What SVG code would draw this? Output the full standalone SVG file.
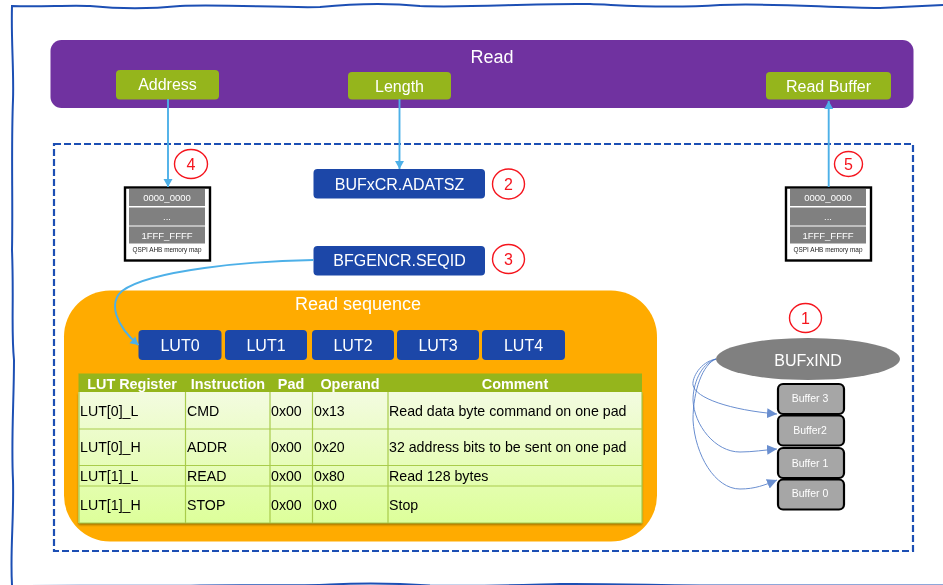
<svg xmlns="http://www.w3.org/2000/svg" width="943" height="585" viewBox="0 0 943 585">
<style>
text{font-family:"Liberation Sans",Arial,sans-serif}
.w{fill:#fff;text-anchor:middle}
.g{fill:#95b51a}
.b{fill:#1a47a8}
.t16{font-size:16px}
.c{fill:#fff;stroke:#f5141e;stroke-width:1.4}
.n{fill:#f5141e;font-size:16px;text-anchor:middle}
.gr{fill:#808080}
.mt{fill:#fff;font-size:9.5px;text-anchor:middle}
.cap{fill:#222;font-size:6.4px;text-anchor:middle}
.mb{fill:#fff;stroke:#000;stroke-width:2.4}
.buf{fill:#a6a6a6;stroke:#000;stroke-width:2.2}
.bt{fill:#fff;font-size:10.500px;text-anchor:middle}
.h{fill:#fff;font-size:14.400px;font-weight:bold;text-anchor:middle}
.r{fill:#000;font-size:14.200px}
.gl{stroke:#a9cc4c;stroke-width:1.2;fill:none}
.arr{fill:none;stroke:#4db0e8;stroke-width:1.9}
.thin{fill:none;stroke:#4472c4;stroke-width:1;opacity:.8}
</style>
<defs>
<marker id="ah" markerWidth="12" markerHeight="12" refX="9" refY="6" orient="auto" markerUnits="userSpaceOnUse"><path d="M1,1.500L9,6L1,10.500Z" fill="#4db0e8"/></marker>
<marker id="ah2" markerWidth="12" markerHeight="12" refX="10" refY="6" orient="auto" markerUnits="userSpaceOnUse"><path d="M0,1L10,6L0,11Z" fill="#4472c4"/></marker>
<linearGradient id="rows" x1="0" y1="0" x2="0" y2="1"><stop offset="0" stop-color="#f3fbe0"/><stop offset="1" stop-color="#ddff9a"/></linearGradient>
<filter id="sh" x="-2%" y="-2%" width="104%" height="106%"><feDropShadow dx="0" dy="2" stdDeviation="1" flood-color="#5a5000" flood-opacity=".6"/></filter>
<filter id="soft" filterUnits="userSpaceOnUse" x="0" y="0" width="943" height="585"><feGaussianBlur stdDeviation="0.4"/></filter>
</defs>
<g filter="url(#soft)">
<rect width="943" height="585" fill="#fff"/>
<g id="frame" fill="none" stroke="#1e50b4" stroke-width="2">
<path d="M12,585 C10,550 14,520 13,480 C11,440 14,400 14,360 C11,330 14,300 12,250 C13,200 11,150 13,100 C14,70 11,40 12,6 C40,7 70,5 90,6 C120,9 150,9 180,6 C220,4 280,8 320,7 C350,4 390,3 420,6 C470,8 530,3 590,4 C620,5 660,9 720,5 C780,3 830,8 880,8 C900,7 920,6 943,5"/>
<path d="M12,586C100,585 150,586.500 200,585.500C250,585 300,586 330,584.500C360,583 400,583.500 430,585.500C480,586.500 520,585 560,584C620,583.500 680,586 760,585.500C820,585 880,586 943,585.500"/>
</g>

<g id="read">
<rect x="50.500" y="40" width="863" height="68" rx="11" fill="#7030a0"/>
<text class="w" x="492" y="63" font-size="18">Read</text>
</g>
<g id="address"><rect class="g" x="116" y="70" width="103" height="29.500" rx="4"/><text class="w t16" x="167.500" y="90">Address</text></g>
<g id="length"><rect class="g" x="348" y="72" width="103" height="27.500" rx="4"/><text class="w t16" x="399.500" y="91.500">Length</text></g>
<g id="read-buffer"><rect class="g" x="766" y="72" width="125" height="27.500" rx="4"/><text class="w t16" x="828.500" y="91.500">Read Buffer</text></g>

<g id="dashed-region"><rect x="54" y="144" width="859" height="407" fill="none" stroke="#1e50b4" stroke-width="2.200" stroke-dasharray="7 3"/></g>

<g id="memory-left">
<rect class="mb" x="125" y="187.500" width="85" height="73"/>
<rect class="gr" x="129" y="189" width="76" height="17"/><rect class="gr" x="129" y="207.500" width="76" height="18"/><rect class="gr" x="129" y="226.500" width="76" height="17"/>
<text class="mt" x="167" y="201">0000_0000</text><text class="mt" x="167" y="220">...</text><text class="mt" x="167" y="238.500">1FFF_FFFF</text>
<text class="cap" x="167" y="251.500">QSPI AHB memory map</text>
</g>
<g id="memory-right">
<rect class="mb" x="786" y="187.500" width="85" height="73"/>
<rect class="gr" x="790" y="189" width="76" height="17"/><rect class="gr" x="790" y="207.500" width="76" height="18"/><rect class="gr" x="790" y="226.500" width="76" height="17"/>
<text class="mt" x="828" y="201">0000_0000</text><text class="mt" x="828" y="220">...</text><text class="mt" x="828" y="238.500">1FFF_FFFF</text>
<text class="cap" x="828" y="251.500">QSPI AHB memory map</text>
</g>

<g id="bufxcr"><rect class="b" x="313.500" y="169" width="171.500" height="29.500" rx="4"/><text class="w t16" x="399.500" y="189.500">BUFxCR.ADATSZ</text></g>
<g id="bfgencr"><rect class="b" x="313.500" y="246" width="171.500" height="29.500" rx="4"/><text class="w t16" x="399.500" y="266">BFGENCR.SEQID</text></g>

<g id="badge-4"><ellipse class="c" cx="191" cy="164" rx="16.500" ry="14.500"/><text class="n" x="191" y="170">4</text></g>
<g id="badge-2"><ellipse class="c" cx="508.500" cy="184" rx="16" ry="15"/><text class="n" x="508.500" y="190">2</text></g>
<g id="badge-3"><ellipse class="c" cx="508.500" cy="259" rx="16" ry="14.500"/><text class="n" x="508.500" y="265">3</text></g>
<g id="badge-5"><ellipse class="c" cx="848.500" cy="164" rx="14" ry="12.500"/><text class="n" x="848.500" y="170">5</text></g>
<g id="badge-1"><ellipse class="c" cx="805.500" cy="318" rx="16" ry="14.500"/><text class="n" x="805.500" y="324">1</text></g>

<g id="read-sequence">
<rect x="64" y="290.500" width="593" height="251" rx="46" fill="#ffab00"/>
<text class="w" x="358" y="310" font-size="18">Read sequence</text>
</g>
<g id="lut0"><rect class="b" x="138.500" y="330" width="83" height="30" rx="4"/><text class="w t16" x="180" y="351">LUT0</text></g>
<g id="lut1"><rect class="b" x="225" y="330" width="82" height="30" rx="4"/><text class="w t16" x="266" y="351">LUT1</text></g>
<g id="lut2"><rect class="b" x="312" y="330" width="82" height="30" rx="4"/><text class="w t16" x="353" y="351">LUT2</text></g>
<g id="lut3"><rect class="b" x="397" y="330" width="82" height="30" rx="4"/><text class="w t16" x="438" y="351">LUT3</text></g>
<g id="lut4"><rect class="b" x="482" y="330" width="83" height="30" rx="4"/><text class="w t16" x="523.500" y="351">LUT4</text></g>

<g id="lut-table">
<rect x="78.500" y="392" width="563.500" height="131" fill="url(#rows)" filter="url(#sh)"/>
<rect x="78.500" y="373.500" width="563.500" height="18.500" fill="#95b51a"/>
<path class="gl" d="M79,429H642M79,465.500H642M79,486H642M79,523H642M79,392V523M642,392V523M185.500,392V523M270,392V523M312.500,392V523M388,392V523"/>
<text class="h" x="132" y="389">LUT Register</text><text class="h" x="228" y="389">Instruction</text><text class="h" x="291" y="389">Pad</text><text class="h" x="350" y="389">Operand</text><text class="h" x="515" y="389">Comment</text>
<text class="r" x="80" y="416">LUT[0]_L</text><text class="r" x="187" y="416">CMD</text><text class="r" x="271" y="416">0x00</text><text class="r" x="314" y="416">0x13</text><text class="r" x="389" y="416">Read data byte command on one pad</text>
<text class="r" x="80" y="452">LUT[0]_H</text><text class="r" x="187" y="452">ADDR</text><text class="r" x="271" y="452">0x00</text><text class="r" x="314" y="452">0x20</text><text class="r" x="389" y="452">32 address bits to be sent on one pad</text>
<text class="r" x="80" y="481">LUT[1]_L</text><text class="r" x="187" y="481">READ</text><text class="r" x="271" y="481">0x00</text><text class="r" x="314" y="481">0x80</text><text class="r" x="389" y="481">Read 128 bytes</text>
<text class="r" x="80" y="510">LUT[1]_H</text><text class="r" x="187" y="510">STOP</text><text class="r" x="271" y="510">0x00</text><text class="r" x="314" y="510">0x0</text><text class="r" x="389" y="510">Stop</text>
</g>

<g id="bufxind"><ellipse class="gr" cx="808" cy="359" rx="92" ry="21"/><text class="w" x="808" y="365.500" font-size="16">BUFxIND</text></g>
<g id="buffer-3"><rect class="buf" x="778" y="384" width="66" height="30" rx="5"/><text class="bt" x="810" y="402">Buffer 3</text></g>
<g id="buffer-2"><rect class="buf" x="778" y="415.500" width="66" height="30" rx="5"/><text class="bt" x="810" y="434">Buffer2</text></g>
<g id="buffer-1"><rect class="buf" x="778" y="448" width="66" height="30" rx="5"/><text class="bt" x="810" y="466.500">Buffer 1</text></g>
<g id="buffer-0"><rect class="buf" x="778" y="479.500" width="66" height="30" rx="5"/><text class="bt" x="810" y="497">Buffer 0</text></g>

<g id="connectors">
<path class="arr" marker-end="url(#ah)" d="M168,99V187"/>
<path class="arr" marker-end="url(#ah)" d="M399.500,99V169"/>
<path class="arr" marker-end="url(#ah)" d="M828.700,187V101"/>
<path class="arr" marker-end="url(#ah)" d="M313.500,260C250,261 150,270 122,291C108,303 116,326 138.500,345"/>
<path class="thin" marker-end="url(#ah2)" d="M716,359C700,362 692,378 693,385C695,398 730,410 777,414"/>
<path class="thin" marker-end="url(#ah2)" d="M716,359C700,364 693,385 693,400C694,425 715,452 740,452C752,452 765,450 777,449"/>
<path class="thin" marker-end="url(#ah2)" d="M716,359C703,364 693,390 693,420C695,455 715,489 740,489C755,489 765,485 777,480"/>
</g>
</g>
</svg>
